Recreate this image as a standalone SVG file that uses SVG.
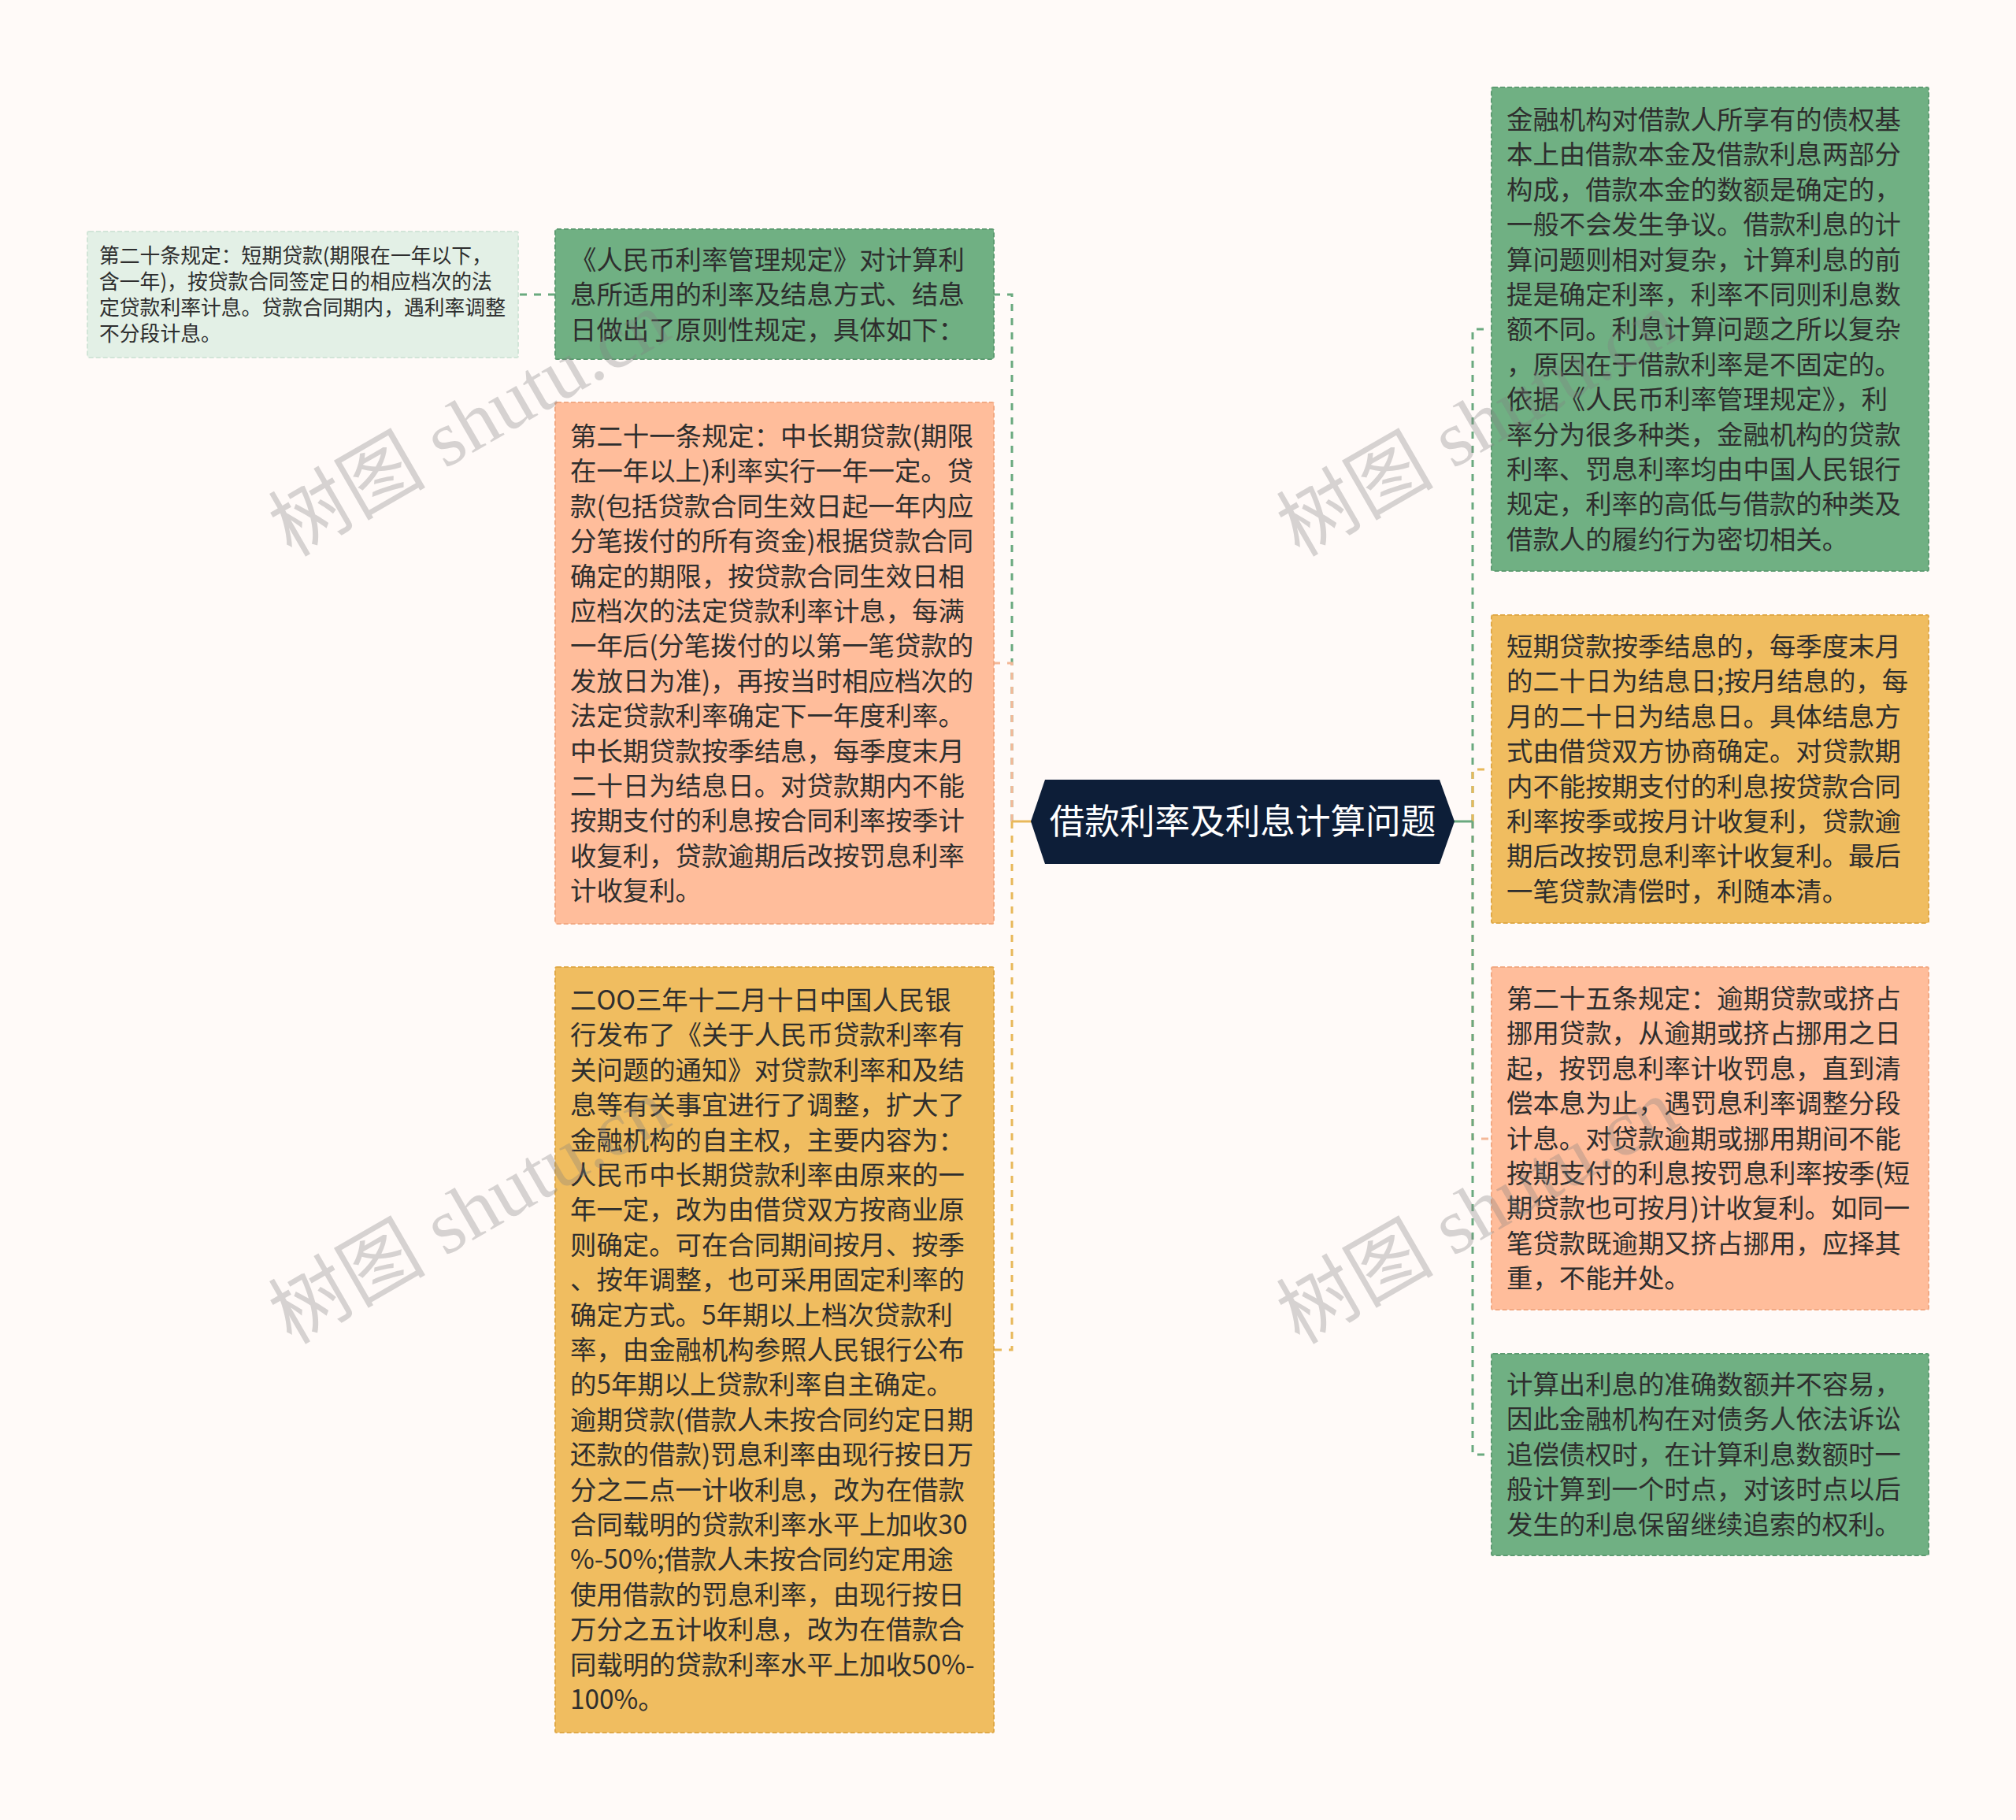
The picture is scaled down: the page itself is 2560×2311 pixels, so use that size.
<svg xmlns="http://www.w3.org/2000/svg" width="2560" height="2311" viewBox="0 0 2560 2311">
<style>
.bg{fill:#fffaf8}
.t{font-family:"Noto Sans CJK SC","Noto Sans",sans-serif;font-size:33.4px;fill:#2e2e2e}
.ts{font-family:"Noto Sans CJK SC","Noto Sans",sans-serif;font-size:25.8px;fill:#2e2e2e}
.green{fill:#70b083;stroke:#5e9c72;stroke-width:2;stroke-dasharray:6 3}
.salmon{fill:#ffbd9b;stroke:#f2a983;stroke-width:2;stroke-dasharray:6 3}
.yellow{fill:#f0bd60;stroke:#e0a948;stroke-width:2;stroke-dasharray:6 3}
.light{fill:#e3f0e6;stroke:#d2e5d8;stroke-width:2;stroke-dasharray:6 3}
.c{fill:none;stroke-width:3;stroke-dasharray:9 9}
.cg{stroke:#6aa97f}
.cs{stroke:#f4b898}
.cy{stroke:#e8b85a}
.wm{font-family:"Liberation Serif","Noto Sans CJK SC",serif;font-size:100px;fill:#808080;fill-opacity:0.32}
</style>
<rect class="bg" x="0" y="0" width="2560" height="2311"/>
<g id="connectors">
<path class="c cg" d="M705 374 H658"/>
<path class="c cg" d="M1285 1043 V374 H1262"/>
<path class="c cs" d="M1285 1043 V842 H1262"/>
<path class="c cy" d="M1285 1043 V1714 H1262"/>
<line x1="1285" y1="1043" x2="1310" y2="1043" stroke="#e8b85a" stroke-width="3"/>
<path class="c cg" d="M1870 1043 V418 H1894"/>
<path class="c cy" d="M1870 1043 V977 H1894"/>
<path class="c cs" d="M1870 1043 V1446 H1894"/>
<path class="c cg" d="M1870 1043 V1847 H1894"/>
<line x1="1846" y1="1043" x2="1870" y2="1043" stroke="#6aa97f" stroke-width="3"/>
</g>
<g id="center">
<polygon points="1309,1043 1327,990 1828,990 1847,1043 1828,1097 1327,1097" fill="#0d1e38"/>
<text x="1578" y="1059" text-anchor="middle" font-family="Noto Sans CJK SC,Noto Sans,sans-serif" font-size="44.6" fill="#ffffff">借款利率及利息计算问题</text>
</g>
<g id="L1child">
<rect class="light" x="111" y="294" width="547" height="160" rx="2"/>
<text class="ts"><tspan x="126" y="334">第二十条规定：短期贷款(期限在一年以下，</tspan><tspan x="126" y="367">含一年)，按贷款合同签定日的相应档次的法</tspan><tspan x="126" y="400">定贷款利率计息。贷款合同期内，遇利率调整</tspan><tspan x="126" y="433">不分段计息。</tspan></text>
</g>
<g id="L1">
<rect class="green" x="705" y="291" width="557" height="165" rx="2"/>
<text class="t"><tspan x="724" y="342">《人民币利率管理规定》对计算利</tspan><tspan x="724" y="386">息所适用的利率及结息方式、结息</tspan><tspan x="724" y="431">日做出了原则性规定，具体如下：</tspan></text>
</g>
<g id="L2">
<rect class="salmon" x="705" y="511" width="557" height="662" rx="2"/>
<text class="t"><tspan x="724" y="566">第二十一条规定：中长期贷款(期限</tspan><tspan x="724" y="610">在一年以上)利率实行一年一定。贷</tspan><tspan x="724" y="655">款(包括贷款合同生效日起一年内应</tspan><tspan x="724" y="699">分笔拨付的所有资金)根据贷款合同</tspan><tspan x="724" y="744">确定的期限，按贷款合同生效日相</tspan><tspan x="724" y="788">应档次的法定贷款利率计息，每满</tspan><tspan x="724" y="832">一年后(分笔拨付的以第一笔贷款的</tspan><tspan x="724" y="877">发放日为准)，再按当时相应档次的</tspan><tspan x="724" y="921">法定贷款利率确定下一年度利率。</tspan><tspan x="724" y="966">中长期贷款按季结息，每季度末月</tspan><tspan x="724" y="1010">二十日为结息日。对贷款期内不能</tspan><tspan x="724" y="1054">按期支付的利息按合同利率按季计</tspan><tspan x="724" y="1099">收复利，贷款逾期后改按罚息利率</tspan><tspan x="724" y="1143">计收复利。</tspan></text>
</g>
<g id="L3">
<rect class="yellow" x="705" y="1228" width="557" height="972" rx="2"/>
<text class="t"><tspan x="724" y="1282">二OO三年十二月十日中国人民银</tspan><tspan x="724" y="1326">行发布了《关于人民币贷款利率有</tspan><tspan x="724" y="1371">关问题的通知》对贷款利率和及结</tspan><tspan x="724" y="1415">息等有关事宜进行了调整，扩大了</tspan><tspan x="724" y="1460">金融机构的自主权，主要内容为：</tspan><tspan x="724" y="1504">人民币中长期贷款利率由原来的一</tspan><tspan x="724" y="1548">年一定，改为由借贷双方按商业原</tspan><tspan x="724" y="1593">则确定。可在合同期间按月、按季</tspan><tspan x="724" y="1637">、按年调整，也可采用固定利率的</tspan><tspan x="724" y="1682">确定方式。5年期以上档次贷款利</tspan><tspan x="724" y="1726">率，由金融机构参照人民银行公布</tspan><tspan x="724" y="1770">的5年期以上贷款利率自主确定。</tspan><tspan x="724" y="1815">逾期贷款(借款人未按合同约定日期</tspan><tspan x="724" y="1859">还款的借款)罚息利率由现行按日万</tspan><tspan x="724" y="1904">分之二点一计收利息，改为在借款</tspan><tspan x="724" y="1948">合同载明的贷款利率水平上加收30</tspan><tspan x="724" y="1992">%-50%;借款人未按合同约定用途</tspan><tspan x="724" y="2037">使用借款的罚息利率，由现行按日</tspan><tspan x="724" y="2081">万分之五计收利息，改为在借款合</tspan><tspan x="724" y="2126">同载明的贷款利率水平上加收50%-</tspan><tspan x="724" y="2170">100%。</tspan></text>
</g>
<g id="R1">
<rect class="green" x="1894" y="111" width="555" height="614" rx="2"/>
<text class="t"><tspan x="1913" y="164">金融机构对借款人所享有的债权基</tspan><tspan x="1913" y="208">本上由借款本金及借款利息两部分</tspan><tspan x="1913" y="253">构成，借款本金的数额是确定的，</tspan><tspan x="1913" y="297">一般不会发生争议。借款利息的计</tspan><tspan x="1913" y="342">算问题则相对复杂，计算利息的前</tspan><tspan x="1913" y="386">提是确定利率，利率不同则利息数</tspan><tspan x="1913" y="430">额不同。利息计算问题之所以复杂</tspan><tspan x="1913" y="475">，原因在于借款利率是不固定的。</tspan><tspan x="1913" y="519">依据《人民币利率管理规定》，利</tspan><tspan x="1913" y="564">率分为很多种类，金融机构的贷款</tspan><tspan x="1913" y="608">利率、罚息利率均由中国人民银行</tspan><tspan x="1913" y="652">规定，利率的高低与借款的种类及</tspan><tspan x="1913" y="697">借款人的履约行为密切相关。</tspan></text>
</g>
<g id="R2">
<rect class="yellow" x="1894" y="781" width="555" height="391" rx="2"/>
<text class="t"><tspan x="1913" y="833">短期贷款按季结息的，每季度末月</tspan><tspan x="1913" y="877">的二十日为结息日;按月结息的，每</tspan><tspan x="1913" y="922">月的二十日为结息日。具体结息方</tspan><tspan x="1913" y="966">式由借贷双方协商确定。对贷款期</tspan><tspan x="1913" y="1011">内不能按期支付的利息按贷款合同</tspan><tspan x="1913" y="1055">利率按季或按月计收复利，贷款逾</tspan><tspan x="1913" y="1099">期后改按罚息利率计收复利。最后</tspan><tspan x="1913" y="1144">一笔贷款清偿时，利随本清。</tspan></text>
</g>
<g id="R3">
<rect class="salmon" x="1894" y="1228" width="555" height="435" rx="2"/>
<text class="t"><tspan x="1913" y="1280">第二十五条规定：逾期贷款或挤占</tspan><tspan x="1913" y="1324">挪用贷款，从逾期或挤占挪用之日</tspan><tspan x="1913" y="1369">起，按罚息利率计收罚息，直到清</tspan><tspan x="1913" y="1413">偿本息为止，遇罚息利率调整分段</tspan><tspan x="1913" y="1458">计息。对贷款逾期或挪用期间不能</tspan><tspan x="1913" y="1502">按期支付的利息按罚息利率按季(短</tspan><tspan x="1913" y="1546">期贷款也可按月)计收复利。如同一</tspan><tspan x="1913" y="1591">笔贷款既逾期又挤占挪用，应择其</tspan><tspan x="1913" y="1635">重，不能并处。</tspan></text>
</g>
<g id="R4">
<rect class="green" x="1894" y="1719" width="555" height="256" rx="2"/>
<text class="t"><tspan x="1913" y="1770">计算出利息的准确数额并不容易，</tspan><tspan x="1913" y="1814">因此金融机构在对债务人依法诉讼</tspan><tspan x="1913" y="1859">追偿债权时，在计算利息数额时一</tspan><tspan x="1913" y="1903">般计算到一个时点，对该时点以后</tspan><tspan x="1913" y="1948">发生的利息保留继续追索的权利。</tspan></text>
</g>
<g id="watermark">
<text class="wm" transform="translate(370 708) rotate(-30)">树图 shutu.cn</text>
<text class="wm" transform="translate(1650 708) rotate(-30)">树图 shutu.cn</text>
<text class="wm" transform="translate(370 1708) rotate(-30)">树图 shutu.cn</text>
<text class="wm" transform="translate(1650 1708) rotate(-30)">树图 shutu.cn</text>
</g>
</svg>
